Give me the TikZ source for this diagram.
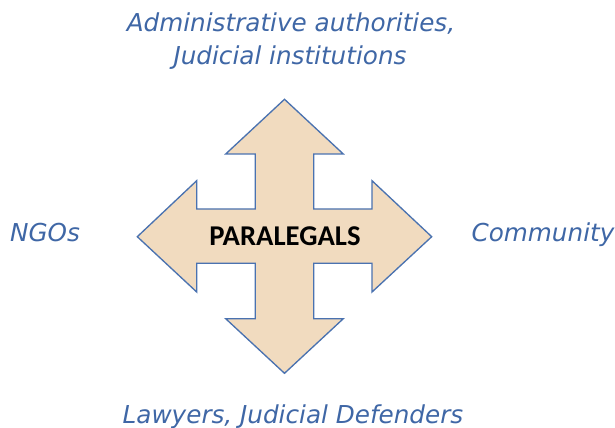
\documentclass[tikz,border=0pt]{standalone}
\usepackage{fontspec}
\setmainfont{DejaVu Sans}
\newfontfamily\boldlabel{Carlito}
\definecolor{txtblue}{HTML}{3F67A6}
\definecolor{arrowfill}{HTML}{F1DBBF}
\definecolor{arrowline}{HTML}{4A72B0}
\begin{document}
\begin{tikzpicture}[x=0.75pt,y=-0.75pt,
  lbl/.style={font=\fontsize{18.5}{22}\selectfont\itshape, text=txtblue, anchor=base, inner sep=0pt},
  centrelbl/.style={font=\boldlabel\bfseries\fontsize{21.5}{24}\selectfont, text=black, anchor=base, inner sep=0pt}]
\useasboundingbox[fill=white] (0,0) rectangle (615,428);
\draw[fill=arrowfill, draw=arrowline, line width=1pt, line join=miter]
  (284.5,99.3) -- (343.3,154) -- (313.7,154) -- (313.7,209) -- (372,209) -- (372,180.7)
  -- (431.7,236.7) -- (372,292) -- (372,263.3) -- (313.7,263.3) -- (313.7,318.7)
  -- (343.3,318.7) -- (284.5,373.3) -- (225.7,318.7) -- (255.3,318.7) -- (255.3,263.3)
  -- (196.7,263.3) -- (196.7,292) -- (137.3,236.7) -- (196.7,180.7) -- (196.7,209)
  -- (255.3,209) -- (255.3,154) -- (225.7,154) -- cycle;
\node[centrelbl] (para) at (285,245) {PARALEGALS};
\node[lbl] (adm1) at (291,32) {Administrative authorities,};
\node[lbl] (adm2) at (290,65) {Judicial institutions};
\node[lbl] (ngo) at (45,241) {NGOs};
\node[lbl] (comm) at (543,241) {Community};
\node[lbl] (law) at (293,423) {Lawyers, Judicial Defenders};
\end{tikzpicture}
\end{document}
